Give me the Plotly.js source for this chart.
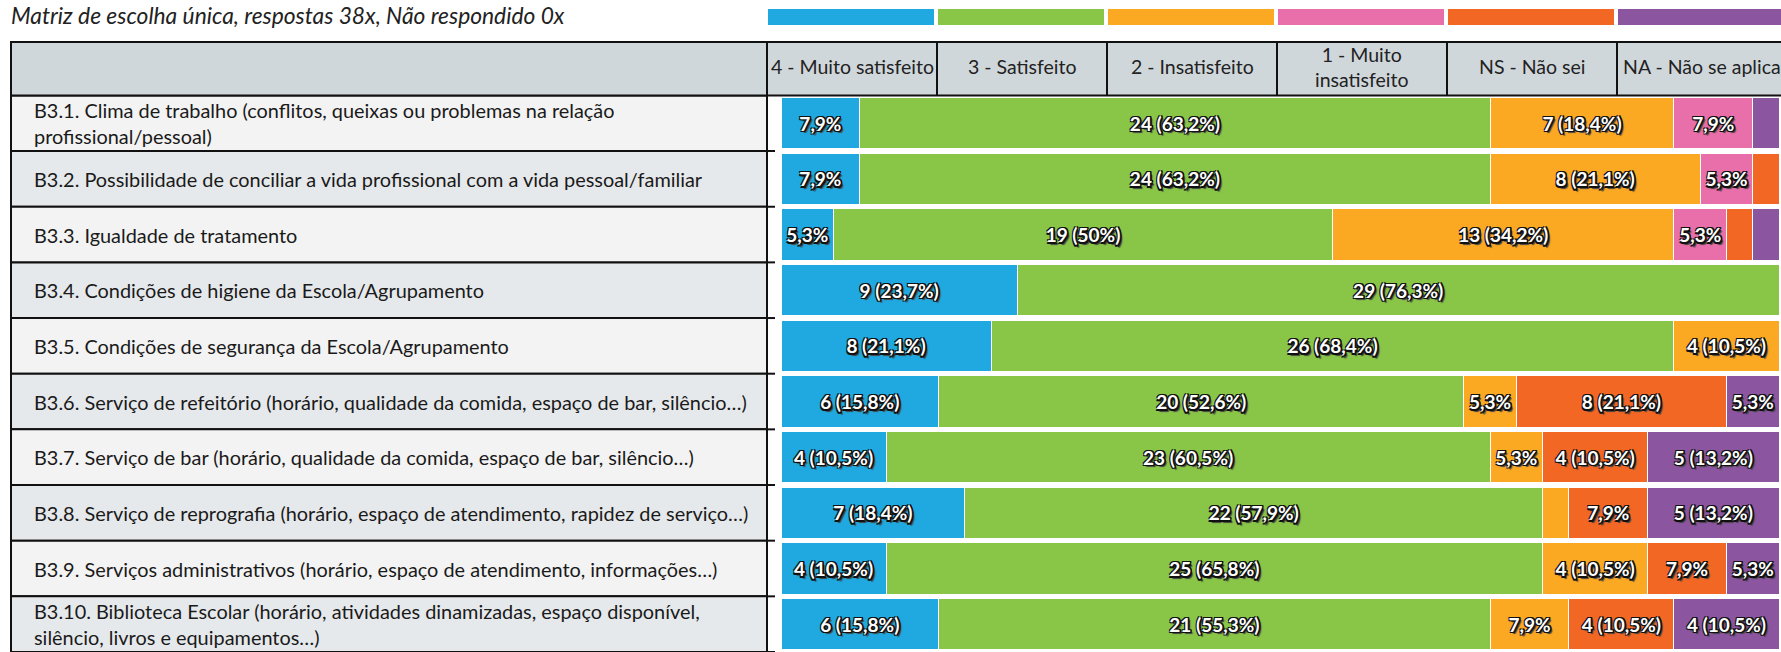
<!DOCTYPE html>
<html>
<head>
<meta charset="utf-8">
<script src="https://cdn.plot.ly/plotly-3.0.1.min.js"></script>
<style>html,body{margin:0;padding:0;background:#fff;}#chart{width:1781px;height:652px;}</style>
</head>
<body>
<div id="chart"></div>
<script>
// ---- data ----
const titleText = 'Matriz de escolha única, respostas 38x, Não respondido 0x';
const total = 38;
const rowLabels = [
  'B3.1. Clima de trabalho (conflitos, queixas ou problemas na relação<br>profissional/pessoal)',
  'B3.2. Possibilidade de conciliar a vida profissional com a vida pessoal/familiar',
  'B3.3. Igualdade de tratamento',
  'B3.4. Condições de higiene da Escola/Agrupamento',
  'B3.5. Condições de segurança da Escola/Agrupamento',
  'B3.6. Serviço de refeitório (horário, qualidade da comida, espaço de bar, silêncio…)',
  'B3.7. Serviço de bar (horário, qualidade da comida, espaço de bar, silêncio…)',
  'B3.8. Serviço de reprografia (horário, espaço de atendimento, rapidez de serviço…)',
  'B3.9. Serviços administrativos (horário, espaço de atendimento, informações…)',
  'B3.10. Biblioteca Escolar (horário, atividades dinamizadas, espaço disponível,<br>silêncio, livros e equipamentos…)'
];
const seriesNames = ['4 - Muito satisfeito', '3 - Satisfeito', '2 - Insatisfeito', '1 - Muito<br>insatisfeito', 'NS - Não sei', 'NA - Não se aplica'];
const muitoSatisfeito    = [3, 3, 2, 9, 8, 6, 4, 7, 4, 6];
const satisfeito         = [24, 24, 19, 29, 26, 20, 23, 22, 25, 21];
const insatisfeito       = [7, 8, 13, 0, 4, 2, 2, 1, 4, 3];
const muitoInsatisfeito  = [3, 2, 2, 0, 0, 0, 0, 0, 0, 0];
const naoSei             = [0, 1, 1, 0, 0, 8, 4, 3, 3, 4];
const naoSeAplica        = [1, 0, 1, 0, 0, 2, 5, 5, 2, 4];
const seriesValues = [muitoSatisfeito, satisfeito, insatisfeito, muitoInsatisfeito, naoSei, naoSeAplica];
const colors = ['#20a9e0', '#89c547', '#fba923', '#e86fa9', '#f26723', '#8b55a0'];

// ---- geometry helpers (pixel -> paper) ----
const W = 1781, H = 652;
const px = v => v / W;
const py = v => 1 - v / H;
const tableLeft = 11, labelRight = 767, headerTop = 42, headerBottom = 95.4;
const colW = 170;

function pctText(n) {
  let p = (n / total * 100).toFixed(1).replace('.', ',');
  if (p.endsWith(',0')) p = p.slice(0, -2);
  if (n >= 4) return n + ' (' + p + '%)';
  if (n >= 2) return p + '%';
  return '';
}

const labelFont = 'Lato, "Open Sans", sans-serif';
const traces = seriesValues.map((vals, i) => ({
  type: 'bar',
  orientation: 'h',
  name: seriesNames[i],
  x: vals,
  y: rowLabels,
  marker: {color: colors[i], line: {color: '#ffffff', width: 1}},
  text: vals.map(pctText),
  textposition: 'inside',
  insidetextanchor: 'middle',
  textangle: 0,
  constraintext: 'none',
  textfont: {
    family: 'Lato, Roboto, sans-serif',
    size: 19, weight: 'bold', color: '#ffffff',
    shadow: '1.5px 1.5px 0 #111, -1px -1px 0 #111, 1.5px -1px 0 #111, -1px 1.5px 0 #111, 0 1.5px 0 #111, 1.5px 0 0 #111, 2.5px 2.5px 1px #444'
  },
  hoverinfo: 'skip',
  showlegend: false
}));

const shapes = [];
const annotations = [];

// legend colour strips
colors.forEach((c, i) => {
  shapes.push({type: 'rect', xref: 'paper', yref: 'paper',
    x0: px(labelRight + colW * i + 1), x1: px(labelRight + colW * (i + 1) - 3),
    y0: py(25), y1: py(9), fillcolor: c, line: {width: 0}, layer: 'above'});
});

// header row
shapes.push({type: 'rect', xref: 'paper', yref: 'paper', x0: px(tableLeft), x1: 1.01,
  y0: py(headerBottom), y1: py(headerTop), fillcolor: '#d0d7db', line: {color: '#111', width: 2}});
for (let i = 0; i <= 6; i++) {
  shapes.push({type: 'line', xref: 'paper', yref: 'paper',
    x0: px(labelRight + colW * i), x1: px(labelRight + colW * i),
    y0: py(headerBottom), y1: py(headerTop), line: {color: '#111', width: 2}});
}
seriesNames.forEach((n, i) => {
  annotations.push({xref: 'paper', yref: 'paper', x: px(labelRight + colW * (i + 0.5)), y: py(67),
    xanchor: 'center', yanchor: 'middle', text: n, showarrow: false, align: 'center',
    font: {family: labelFont, size: 19.5, color: '#222'}});
});

// label column cells
rowLabels.forEach((lab, i) => {
  shapes.push({type: 'rect', xref: 'paper', yref: 'y', x0: px(tableLeft), x1: px(labelRight),
    y0: i - 0.5, y1: i + 0.5, fillcolor: i % 2 === 0 ? '#f3f3f3' : '#e6e9eb',
    line: {color: '#111', width: 2}, layer: 'below'});
  shapes.push({type: 'line', xref: 'paper', yref: 'y', x0: px(labelRight), x1: px(labelRight + 8),
    y0: i + 0.5, y1: i + 0.5, line: {color: '#111', width: 2}});
  annotations.push({xref: 'paper', yref: 'y', x: px(32), y: i, xanchor: 'left', yanchor: 'middle',
    text: lab, showarrow: false, align: 'left',
    font: {family: labelFont, size: 19.9, color: '#1a1a1a'}});
});

// title
annotations.push({xref: 'paper', yref: 'paper', x: px(9), y: py(15), xanchor: 'left', yanchor: 'middle',
  text: '<i>' + titleText + '</i>', showarrow: false,
  font: {family: labelFont, size: 22.8, color: '#222'}});

const layout = {
  width: W, height: H,
  margin: {l: 0, r: 0, t: 0, b: 0, pad: 0},
  paper_bgcolor: '#ffffff', plot_bgcolor: '#ffffff',
  barmode: 'stack', bargap: 0.08,
  xaxis: {domain: [px(781), px(1779)], range: [0, total], visible: false, fixedrange: true},
  yaxis: {domain: [0, py(headerBottom)], range: [9.5, -0.5], type: 'category', categoryorder: 'array',
    categoryarray: rowLabels, visible: false, fixedrange: true},
  shapes: shapes,
  annotations: annotations,
  showlegend: false,
  hovermode: false
};

Plotly.newPlot('chart', traces, layout, {displayModeBar: false, staticPlot: true});
</script>
</body>
</html>
